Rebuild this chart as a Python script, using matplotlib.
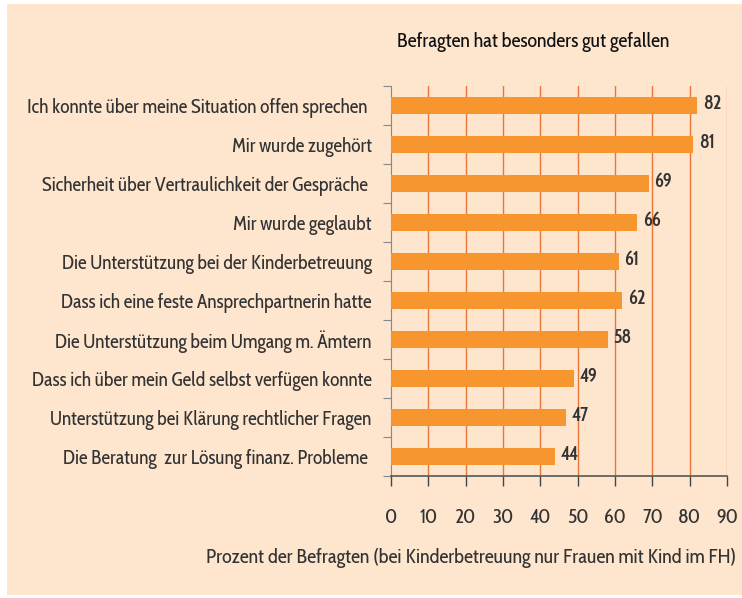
import matplotlib.pyplot as plt
from matplotlib.patches import Rectangle
from matplotlib import font_manager
import numpy as np

# ---------------------------
# data
# ---------------------------
categories = [
    "Ich konnte über meine Situation offen sprechen ",
    "Mir wurde zugehört",
    "Sicherheit über Vertraulichkeit der Gespräche ",
    "Mir wurde geglaubt",
    "Die Unterstützung bei der Kinderbetreuung",
    "Dass ich eine feste Ansprechpartnerin hatte",
    "Die Unterstützung beim Umgang m. Ämtern",
    "Dass ich über mein Geld selbst verfügen konnte",
    "Unterstützung bei Klärung rechtlicher Fragen",
    "Die Beratung  zur Lösung finanz. Probleme ",
]
values = [82, 81, 69, 66, 61, 62, 58, 49, 47, 44]
xticks = [0, 10, 20, 30, 40, 50, 60, 70, 80, 90]

title = "Befragten hat besonders gut gefallen"
xlabel = "Prozent der Befragten (bei Kinderbetreuung nur Frauen mit Kind im FH)"

# narrow humanist font if there is one, else Liberation Sans smaller
names = {f.name for f in font_manager.fontManager.ttflist}
prefs = [("Cabin Condensed", 1.0), ("Roboto Condensed", 0.95),
         ("Liberation Sans Narrow", 0.95), ("Liberation Sans", 0.78)]
fam, k = next(((n, s) for n, s in prefs if n in names), ("DejaVu Sans", 0.7))
plt.rcParams['font.family'] = [fam, 'DejaVu Sans']

txt = '#333333'
bg = '#FDE5CE'
bar_col = '#F7962E'
grid_col = '#E87838'

fig = plt.figure(figsize=(7.42, 5.98), dpi=100)
fig.patch.set_facecolor('white')
fig.patches.append(Rectangle((7 / 742, 3 / 598), 735 / 742, 591 / 598,
                             transform=fig.transFigure, facecolor=bg,
                             edgecolor='none', zorder=-10))

ax = fig.add_axes([391 / 742, 1 - 476 / 598, 336 / 742, 390 / 598])
ax.set_facecolor('none')

y = np.arange(len(categories))
ax.barh(y, values, height=0.44, color=bar_col, zorder=3)
for yi, v in zip(y, values):
    ax.text(v + 1.5, yi - 0.05, str(v), va='center', ha='left',
            fontsize=13.5 * k, color=txt, fontweight='semibold')

ax.set_xlim(0, 90)
ax.set_ylim(len(categories) - 0.5, -0.5)

for x in xticks[1:]:
    ax.axvline(x, color=grid_col, lw=1, zorder=1,
               alpha=0.6 if x == 90 else 1)

ax.set_xticks(xticks)
ax.set_xticklabels([str(t) for t in xticks], fontsize=14.5 * k, color=txt)
ax.tick_params(axis='x', length=7, width=1, color='#444444', pad=16)

ax.set_yticks(np.arange(len(categories) + 1) - 0.5)
ax.set_yticklabels([])
ax.set_yticks(y, minor=True)
ax.set_yticklabels(categories, minor=True, fontsize=14 * k, color=txt)
ax.tick_params(axis='y', which='major', length=6, color='#888888')
ax.tick_params(axis='y', which='minor', length=0, pad=14)

for s in ['top', 'right']:
    ax.spines[s].set_visible(False)
ax.spines['left'].set_color('#888888')
ax.spines['bottom'].set_color('#555555')
ax.spines['bottom'].set_linewidth(1.2)

fig.text(533 / 742, 1 - 42 / 598, title, ha='center', va='center',
         fontsize=14.5 * k, color='#111111')
fig.text(471 / 742, 1 - 558 / 598, xlabel, ha='center', va='center',
         fontsize=14.5 * k, color=txt)

fig.savefig('out.png', dpi=100)
